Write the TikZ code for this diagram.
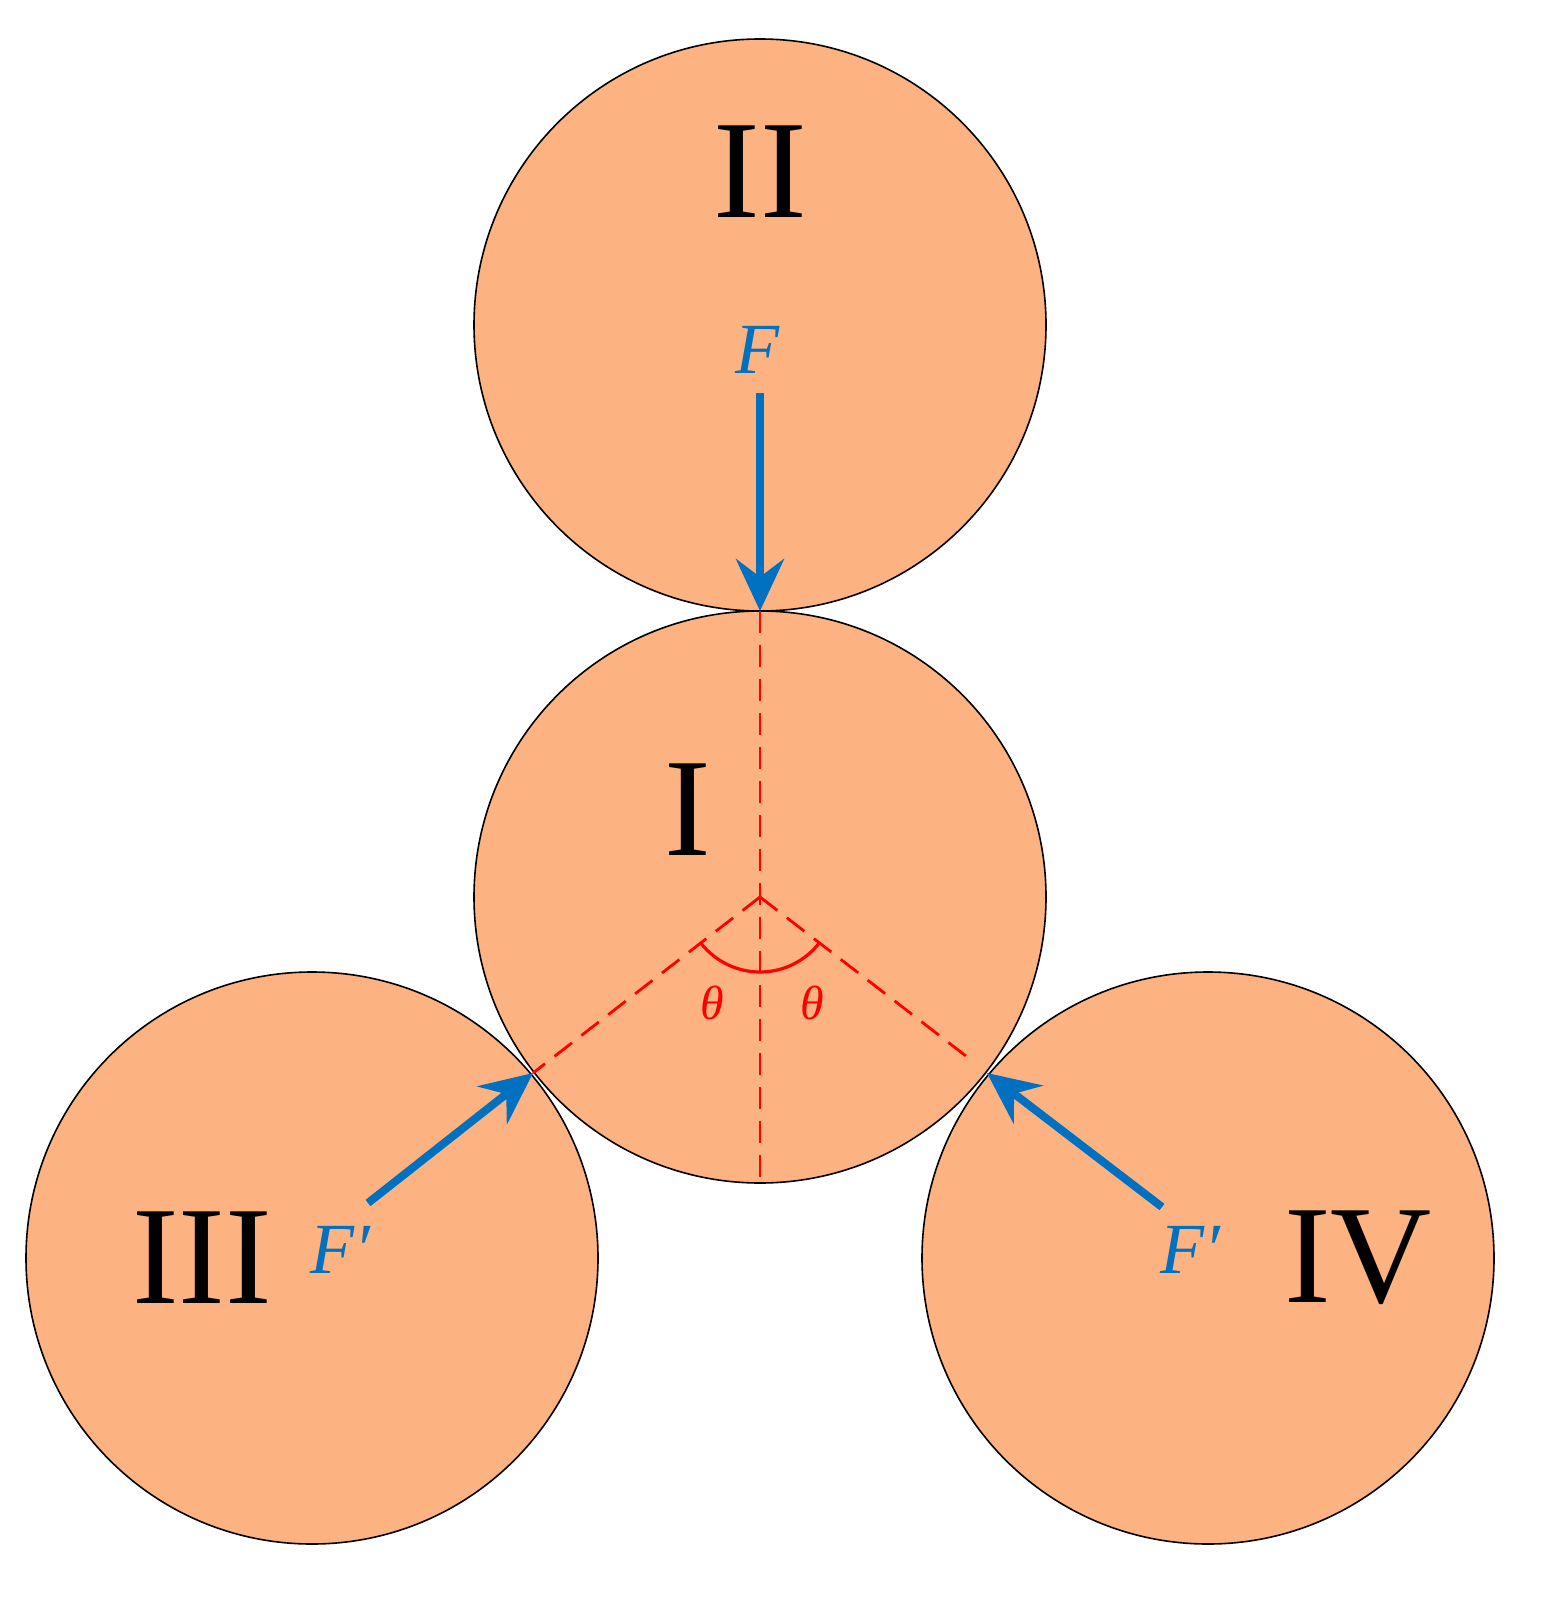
\documentclass[tikz,border=0pt]{standalone}
\usepackage{fontspec}
\setmainfont{Liberation Serif}
\usetikzlibrary{arrows.meta}
\definecolor{disk}{HTML}{FDB282}
\definecolor{fblue}{HTML}{0070C0}
\begin{document}
\begin{tikzpicture}[x=0.5pt,y=-0.5pt,
  disk/.style={circle,draw=black,line width=0.8pt,fill=disk,minimum size=286pt,inner sep=0pt,outer sep=0pt},
  roman/.style={font=\fontsize{70}{70}\selectfont,inner sep=0pt},
  force/.style={draw=fblue,line width=4pt,-{Stealth[length=26pt,width=24pt,inset=9pt]}},
  flab/.style={text=fblue,font=\fontsize{36}{36}\selectfont\itshape,inner sep=0pt},
  tlab/.style={text=red,font=\fontsize{24}{24}\selectfont\itshape,inner sep=0pt},
  red dash/.style={draw=red,line width=1.4pt,dash pattern=on 11pt off 6pt}]
\useasboundingbox (0,0) rectangle (1546,1599);
\node[disk] (II) at (760,325) {};
\node[disk] (I) at (760,897) {};
\node[disk] (III) at (312,1258) {};
\node[disk] (IV) at (1208,1258) {};
\coordinate (c) at (760,897);
\coordinate (top) at (760,611);
\coordinate (bot) at (760,1183);
\coordinate (cl) at (533,1073);
\coordinate (cr) at (987,1073);
\coordinate (crd) at (975,1063);
\draw[red dash] (top) -- (bot);
\draw[red dash] (c) -- (cl);
\draw[red dash] (c) -- (crd);
\draw[red,line width=1.6pt] (c) ++(142:75) arc[start angle=142,end angle=38,radius=75];
\node[roman] (tII) at (760,172) {II};
\node[roman] (tI) at (688,810) {I};
\node[roman] (tIII) at (202,1258) {III};
\node[roman] (tIV) at (1358,1258) {IV};
\node[tlab] (t1) at (712,1003) {θ};
\node[tlab] (t2) at (812,1003) {θ};
\coordinate (fs) at (760,393);
\coordinate (ls) at (368,1203);
\coordinate (rs) at (1162,1207);
\draw[force] (fs) -- (top);
\draw[force] (ls) -- (cl);
\draw[force] (rs) -- (cr);
\node[flab] (F) at (757,350) {F};
\node[flab] (Fl) at (340,1250) {F′};
\node[flab] (Fr) at (1190,1250) {F′};
\end{tikzpicture}
\end{document}
